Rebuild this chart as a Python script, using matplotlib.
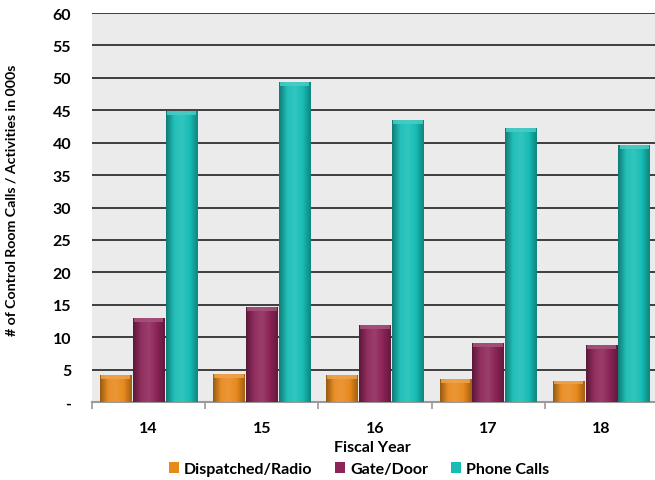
import numpy as np
import matplotlib
matplotlib.use("Agg")
import matplotlib.pyplot as plt
from matplotlib.colors import LinearSegmentedColormap, to_rgb
from matplotlib.patches import Patch

years = ["14", "15", "16", "17", "18"]
series_names = ["Dispatched/Radio", "Gate/Door", "Phone Calls"]
dispatched = [4.2, 4.3, 4.1, 3.5, 3.3]
gate_door = [12.9, 14.6, 11.9, 9.1, 8.8]
phone_calls = [44.9, 49.3, 43.5, 42.2, 39.6]
y_ticks = [0, 5, 10, 15, 20, 25, 30, 35, 40, 45, 50, 55, 60]
y_tick_labels = ["-"] + [str(v) for v in y_ticks[1:]]

colors = ["#E8891C", "#8C2457", "#17BDB5"]
series = [dispatched, gate_door, phone_calls]

plt.rcParams["font.family"] = ["Lato", "DejaVu Sans"]
plt.rcParams["font.weight"] = "bold"

fig = plt.figure(figsize=(6.55, 4.81), dpi=100)
ax = fig.add_axes([92 / 655, 1 - 403 / 481, 566 / 655, 389 / 481])
ax.set_facecolor("#EBEBEB")

x = np.arange(len(years))
width = 0.28
offsets = [-0.29, 0.0, 0.29]


def shade(c, f):
    r = np.array(to_rgb(c))
    if f < 0:
        return tuple(r * (1 + f))
    return tuple(r + (1 - r) * f)


for vals, col, off, name in zip(series, colors, offsets, series_names):
    bars = ax.bar(x + off, vals, width, color=col, label=name, zorder=3,
                  linewidth=0)
    cmap = LinearSegmentedColormap.from_list(
        "cyl", [shade(col, -0.35), shade(col, 0.05), shade(col, 0.12),
                shade(col, 0.0), shade(col, -0.3)])
    grad = np.linspace(0, 1, 64).reshape(1, -1)
    for b in bars:
        bx, by = b.get_x(), b.get_y()
        bw, bh = b.get_width(), b.get_height()
        im = ax.imshow(grad, cmap=cmap, aspect="auto",
                       extent=[bx, bx + bw, by, by + bh], zorder=4,
                       interpolation="bicubic")
        im.set_clip_path(b)
        # soft highlight along the top of each bar
        cap_h = 0.6
        ax.fill_between([bx + 0.01, bx + bw - 0.01], by + bh - cap_h, by + bh,
                        color=shade(col, 0.22), zorder=5, linewidth=0,
                        alpha=0.85)

ax.set_xlim(-0.5, 4.5)
ax.set_ylim(0, 60)
ax.set_yticks(y_ticks)
ax.set_yticklabels(y_tick_labels, fontsize=11.5, fontweight="bold")
ax.yaxis.grid(True, color="#303030", linewidth=1.3, zorder=1)
ax.set_axisbelow(True)
ax.tick_params(axis="y", length=0, pad=15)
for lab in ax.get_yticklabels():
    lab.set_horizontalalignment("right")

ax.set_xticks(np.arange(-0.5, 5.0, 1.0), minor=False)
ax.set_xticklabels([])
ax.set_xticks(x, minor=True)
ax.set_xticklabels(years, minor=True, fontsize=11.5, fontweight="bold")
ax.tick_params(axis="x", which="major", length=5, color="#9A9A9A", width=1.2)
ax.tick_params(axis="x", which="minor", length=0, pad=14)

for s in ["top", "right", "left"]:
    ax.spines[s].set_visible(False)
ax.spines["bottom"].set_color("#9A9A9A")
ax.spines["bottom"].set_linewidth(1.5)

ax.set_xlabel("Fiscal Year", fontsize=11.5, fontweight="bold")
ax.xaxis.set_label_coords((372 - 92) / 566, -0.098)
fig.text(12 / 655, 1 - 200 / 481, "# of Control Room Calls / Activities in 000s",
         rotation=90, ha="center", va="center", fontsize=10.2, fontweight="bold")

handles = [Patch(facecolor=c, label=n) for c, n in zip(colors, series_names)]
fig.legend(handles=handles, loc="center", ncol=3, frameon=False,
           bbox_to_anchor=(359 / 655, 1 - 470 / 481),
           handlelength=0.65, handleheight=0.65, handletextpad=0.3,
           columnspacing=1.4, prop={"weight": "bold", "size": 11.5})

fig.savefig("out.png", dpi=100)
